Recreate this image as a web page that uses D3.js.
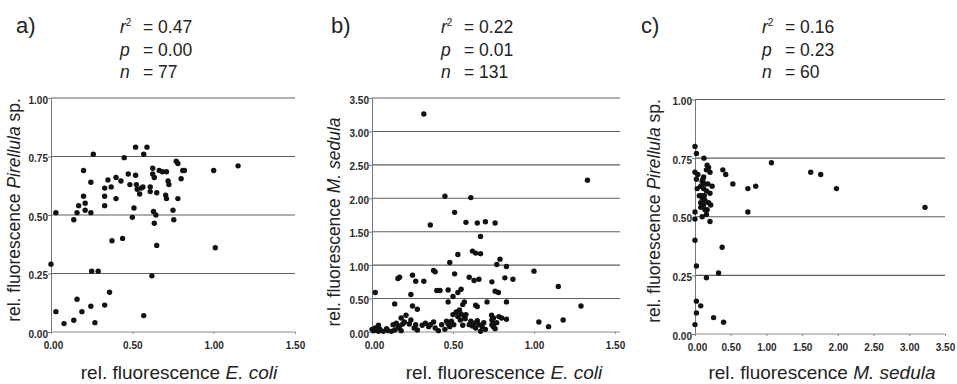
<!DOCTYPE html>
<html><head><meta charset="utf-8">
<script src="https://cdn.jsdelivr.net/npm/d3@7"></script>
<style>
body{margin:0;background:#fff}
svg{display:block}
text{font-family:"Liberation Sans",Arial,Helvetica,sans-serif}
</style>
</head><body>
<svg id="chart" width="957" height="384"></svg>
<script>
// ---------- data ----------
const panelLetters = ["a)", "b)", "c)"];
const statR2 = ["0.47", "0.22", "0.16"];
const statP  = ["0.00", "0.01", "0.23"];
const statN  = ["77", "131", "60"];

const xSpecies = ["E. coli", "E. coli", "M. sedula"];
const ySpecies = [["Pirellula", " sp."], ["M. sedula", ""], ["Pirellula", " sp."]];

const xTicksA = [0, 0.5, 1.0, 1.5];
const yTicksA = [0, 0.25, 0.5, 0.75, 1.0];
const xTicksB = [0, 0.5, 1.0, 1.5];
const yTicksB = [0, 0.5, 1.0, 1.5, 2.0, 2.5, 3.0, 3.5];
const xTicksC = [0, 0.5, 1.0, 1.5, 2.0, 2.5, 3.0, 3.5];
const yTicksC = [0, 0.25, 0.5, 0.75, 1.0];

// panel a: E. coli (x) vs Pirellula sp. (y)
const pointsA = [
 [0.00,0.29],[0.03,0.51],[0.03,0.087],[0.08,0.036],[0.14,0.48],[0.14,0.05],[0.16,0.14],[0.16,0.51],
 [0.17,0.54],[0.19,0.087],[0.20,0.69],[0.20,0.58],[0.21,0.55],[0.21,0.52],[0.245,0.64],[0.245,0.51],
 [0.25,0.26],[0.245,0.11],[0.26,0.76],[0.27,0.04],[0.29,0.26],[0.33,0.615],[0.33,0.58],[0.33,0.54],
 [0.33,0.115],[0.35,0.65],[0.36,0.17],[0.37,0.62],[0.375,0.39],[0.40,0.66],[0.40,0.57],[0.43,0.645],
 [0.44,0.40],[0.45,0.745],[0.475,0.675],[0.485,0.63],[0.50,0.49],[0.51,0.53],[0.52,0.79],[0.52,0.67],
 [0.525,0.63],[0.53,0.61],[0.545,0.59],[0.555,0.615],[0.565,0.62],[0.57,0.76],[0.57,0.07],[0.59,0.79],
 [0.61,0.62],[0.61,0.60],[0.62,0.24],[0.625,0.70],[0.625,0.675],[0.63,0.515],[0.635,0.465],[0.635,0.66],
 [0.645,0.50],[0.65,0.595],[0.65,0.37],[0.665,0.69],[0.685,0.685],[0.705,0.585],[0.71,0.685],[0.71,0.57],
 [0.72,0.645],[0.725,0.63],[0.75,0.52],[0.755,0.48],[0.77,0.73],[0.78,0.72],[0.78,0.57],[0.80,0.655],
 [0.81,0.69],[0.82,0.69],[1.00,0.69],[1.01,0.36],[1.15,0.71]
];

// panel b: E. coli (x) vs M. sedula (y)
const pointsB = [
 [0.32,3.26],[1.33,2.27],[0.45,2.03],[0.61,2.01],[0.51,1.79],[0.36,1.60],[0.58,1.64],[0.65,1.63],
 [0.70,1.65],[0.76,1.63],[0.67,1.43],[0.62,1.21],[0.64,1.18],[0.67,1.17],[0.53,1.16],[0.48,1.04],
 [0.79,1.09],[0.77,1.01],[0.83,0.98],[1.00,0.91],[1.15,0.68],[1.29,0.39],[0.87,0.79],[0.82,0.81],
 [0.83,0.45],[0.74,0.75],[0.76,0.61],[0.78,0.59],[0.71,0.45],[0.65,0.38],[0.64,0.40],[0.63,0.77],
 [0.66,0.79],[0.60,0.82],[0.51,0.87],[0.38,0.92],[0.39,0.90],[0.40,0.62],[0.42,0.62],[0.47,0.63],
 [0.55,0.64],[0.53,0.59],[0.50,0.53],[0.47,0.45],[0.57,0.45],[0.56,0.41],[0.32,0.76],[0.27,0.76],
 [0.25,0.85],[0.16,0.80],[0.17,0.82],[0.02,0.59],[0.14,0.42],[0.24,0.56],[0.25,0.39],[0.28,0.34],
 [0.00,0.04],[0.01,0.02],[0.02,0.06],[0.03,0.03],[0.04,0.10],[0.05,0.04],[0.04,0.01],
 [0.07,0.01],[0.09,0.05],[0.10,0.02],[0.12,0.01],[0.14,0.03],
 [0.13,0.11],[0.15,0.13],[0.16,0.06],[0.17,0.09],[0.18,0.02],[0.19,0.12],[0.20,0.15],
 [0.21,0.25],[0.18,0.21],[0.24,0.18],[0.23,0.12],
 [0.26,0.06],[0.27,0.11],[0.28,0.03],[0.31,0.10],[0.33,0.13],[0.35,0.08],[0.36,0.11],
 [0.38,0.15],[0.39,0.06],[0.41,0.02],[0.43,0.11],[0.45,0.04],
 [0.46,0.16],[0.47,0.12],[0.48,0.08],[0.49,0.16],[0.50,0.26],[0.505,0.11],[0.52,0.30],[0.53,0.23],
 [0.54,0.33],[0.545,0.18],[0.55,0.27],[0.56,0.10],[0.57,0.24],[0.575,0.20],[0.58,0.26],
 [0.60,0.11],[0.61,0.16],[0.62,0.09],[0.63,0.13],[0.64,0.06],[0.65,0.17],[0.66,0.11],[0.67,0.01],
 [0.68,0.08],[0.69,0.14],[0.70,0.04],
 [0.738,0.25],[0.783,0.23],[0.80,0.21],[0.83,0.19],[0.75,0.21],[0.74,0.18],[0.75,0.13],[0.77,0.14],
 [0.74,0.11],[0.75,0.08],[0.76,0.05],[1.03,0.15],[1.09,0.08],[1.18,0.18]
];

// panel c: M. sedula (x) vs Pirellula sp. (y)
const pointsC = [
 [0.00,0.80],[0.02,0.77],[0.00,0.69],[0.39,0.70],[0.43,0.68],[0.53,0.64],[0.74,0.62],[0.85,0.63],
 [0.74,0.52],[1.07,0.73],[1.62,0.69],[1.76,0.68],[1.98,0.62],[3.22,0.54],[0.00,0.52],[0.00,0.49],
 [0.00,0.40],[0.38,0.37],[0.02,0.29],[0.33,0.26],[0.16,0.24],[0.02,0.14],[0.08,0.12],[0.02,0.09],
 [0.00,0.04],[0.26,0.07],[0.40,0.05],
 [0.125,0.75],[0.17,0.72],[0.19,0.71],[0.16,0.70],[0.21,0.69],[0.04,0.68],[0.12,0.67],[0.10,0.65],
 [0.14,0.64],[0.18,0.64],[0.24,0.63],[0.08,0.63],[0.12,0.62],[0.16,0.61],[0.21,0.60],[0.09,0.59],
 [0.13,0.59],[0.06,0.59],[0.10,0.58],[0.14,0.57],[0.08,0.56],[0.19,0.56],[0.12,0.55],[0.22,0.55],
 [0.08,0.54],[0.14,0.53],[0.17,0.53],[0.10,0.50],[0.21,0.48],[0.16,0.51],[0.03,0.62],[0.02,0.66],
 [0.11,0.66]
];

// ---------- layout ----------
const panels = [
  {pts: pointsA, xd: [0, 1.5], yd: [0, 1.0], xr: [51, 295], yr: [332, 98], gridEnd: 295,
   xt: xTicksA, yt: yTicksA, lx: 16, sx: 120, xlc: 179, ylx: 20, ylc: 210},
  {pts: pointsB, xd: [0, 1.5], yd: [0, 3.5], xr: [372, 615], yr: [332, 98], gridEnd: 620,
   xt: xTicksB, yt: yTicksB, lx: 331, sx: 441, xlc: 504, ylx: 340, ylc: 222},
  {pts: pointsC, xd: [0, 3.5], yd: [0, 1.0], xr: [695, 945], yr: [334, 99.5], gridEnd: 945,
   xt: xTicksC, yt: yTicksC, lx: 641, sx: 762, xlc: 822, ylx: 660, ylc: 211}
];

const svg = d3.select("#chart");
const ink = "#222";

panels.forEach((p, i) => {
  const x = d3.scaleLinear().domain(p.xd).range(p.xr);
  const y = d3.scaleLinear().domain(p.yd).range(p.yr);
  const g = svg.append("g");

  // grid lines
  g.selectAll("line.grid").data(p.yt.filter(d => d > 0)).join("line")
    .attr("x1", p.xr[0]).attr("x2", p.gridEnd)
    .attr("y1", d => y(d)).attr("y2", d => y(d))
    .attr("stroke", "#5e5e5e").attr("stroke-width", 1.1);

  // y axis
  const ya = g.append("g").attr("transform", `translate(${p.xr[0]},0)`)
    .call(d3.axisLeft(y).tickValues(p.yt).tickSize(3).tickSizeOuter(0).tickFormat(d3.format(".2f")));
  ya.select(".domain").attr("stroke", "#777");
  ya.selectAll(".tick line").attr("stroke", "#777");
  ya.selectAll(".tick text").attr("font-size", 10).attr("font-weight", "bold").attr("fill", "#2a2a2a")
    .attr("font-family", "'Liberation Sans',Arial,sans-serif").attr("dy", "0.5em").attr("x", -3);

  // x axis
  const xa = g.append("g").attr("transform", `translate(0,${p.yr[0]})`)
    .call(d3.axisBottom(x).tickValues(p.xt).tickSize(2).tickSizeOuter(0).tickFormat(d3.format(".2f")));
  xa.select(".domain").attr("stroke", "#888").attr("d", `M${p.xr[0]},0H${p.gridEnd}`);
  xa.selectAll(".tick line").attr("stroke", "#888");
  xa.selectAll(".tick text").attr("font-size", 10).attr("font-weight", "bold").attr("fill", "#2a2a2a")
    .attr("font-family", "'Liberation Sans',Arial,sans-serif").attr("y", 10)
    .attr("dx", (d, k) => k === 0 ? 2 : 0);

  // points
  g.selectAll("circle").data(p.pts).join("circle")
    .attr("cx", d => x(d[0])).attr("cy", d => y(d[1])).attr("r", 2.7).attr("fill", "#111");

  // panel letter
  svg.append("text").attr("x", p.lx).attr("y", 33).attr("font-size", 22).attr("fill", ink)
    .text(panelLetters[i]);

  // stats
  const rows = [["r", statR2[i], true], ["p", statP[i], false], ["n", statN[i], false]];
  rows.forEach((r, k) => {
    const t = svg.append("text").attr("x", p.sx).attr("y", 33 + k * 22.5)
      .attr("font-size", 17.5).attr("fill", ink);
    t.append("tspan").attr("font-style", "italic").text(r[0]);
    if (r[2]) t.append("tspan").attr("font-size", 10).attr("dy", -7).text("2");
    svg.append("text").attr("x", p.sx + 23).attr("y", 33 + k * 22.5)
      .attr("font-size", 17.5).attr("fill", ink).text("= " + r[1]);
  });

  // x title
  const xt = svg.append("text").attr("x", p.xlc).attr("y", 379).attr("text-anchor", "middle")
    .attr("font-size", 19).attr("fill", ink);
  xt.append("tspan").text("rel. fluorescence ");
  xt.append("tspan").attr("font-style", "italic").text(xSpecies[i]);

  // y title
  const yt = svg.append("text").attr("transform", `translate(${p.ylx},${p.ylc}) rotate(-90)`)
    .attr("text-anchor", "middle").attr("font-size", 17.5).attr("fill", ink);
  yt.append("tspan").text("rel. fluorescence ");
  yt.append("tspan").attr("font-style", "italic").text(ySpecies[i][0]);
  if (ySpecies[i][1]) yt.append("tspan").text(ySpecies[i][1]);
});
</script>
</body></html>
